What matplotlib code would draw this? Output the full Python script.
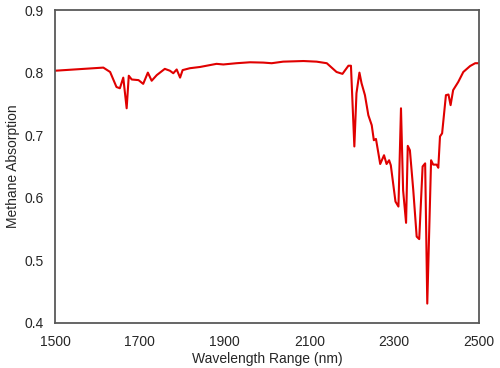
import matplotlib
matplotlib.use("Agg")
import matplotlib.pyplot as plt

wavelength = [1500, 1614, 1630, 1645, 1653, 1661, 1669, 1674, 1681, 1697, 1708, 1719, 1728,
              1740, 1759, 1771, 1779, 1787, 1795, 1801, 1818, 1842, 1881, 1897, 1928, 1960,
              1991, 2011, 2038, 2086, 2117, 2141, 2164, 2178, 2192, 2198, 2206, 2211, 2218,
              2223, 2231, 2239, 2247, 2252, 2257, 2267, 2276, 2282, 2288, 2292, 2303, 2310,
              2316, 2321, 2328, 2332, 2337, 2345, 2353, 2359, 2367, 2373, 2378, 2387, 2392,
              2400, 2404, 2408, 2413, 2422, 2428, 2433, 2439, 2451, 2463, 2479, 2491, 2500]
absorption = [0.803, 0.808, 0.801, 0.777, 0.775, 0.792, 0.743, 0.795, 0.789, 0.788, 0.782,
              0.800, 0.787, 0.796, 0.806, 0.803, 0.799, 0.805, 0.792, 0.804, 0.807, 0.809,
              0.814, 0.813, 0.815, 0.8165, 0.816, 0.815, 0.8175, 0.8185, 0.8175, 0.815,
              0.801, 0.798, 0.811, 0.811, 0.682, 0.767, 0.800, 0.783, 0.764, 0.732, 0.716,
              0.692, 0.694, 0.654, 0.668, 0.654, 0.660, 0.652, 0.594, 0.586, 0.743, 0.612,
              0.560, 0.683, 0.676, 0.612, 0.538, 0.534, 0.650, 0.655, 0.431, 0.660, 0.653,
              0.653, 0.648, 0.698, 0.703, 0.764, 0.765, 0.748, 0.772, 0.785, 0.801, 0.8105,
              0.815, 0.815]

xticks = [1500, 1700, 1900, 2100, 2300, 2500]
yticks = [0.4, 0.5, 0.6, 0.7, 0.8, 0.9]

plt.rcParams['font.family'] = ['Liberation Sans', 'DejaVu Sans']

fig = plt.figure(figsize=(5, 3.68), dpi=100)
ax = fig.add_axes([0.11, 0.1223, 0.848, 0.8505])
ax.plot(wavelength, absorption, color='#e00000', linewidth=1.5)
ax.set_xlim(1500, 2500)
ax.set_ylim(0.4, 0.9)
ax.set_xticks(xticks)
ax.set_yticks(yticks)
ax.set_yticklabels([f"{v:.1f}" for v in yticks])
ax.tick_params(axis='both', length=0, labelsize=10, colors='#262626')
ax.tick_params(axis='y', pad=8)
ax.tick_params(axis='x', pad=9)
for s in ax.spines.values():
    s.set_color('#595959')
    s.set_linewidth(1.3)
ax.set_xlabel('Wavelength Range (nm)', fontsize=10, color='#262626', labelpad=1.5)
ax.set_ylabel('Methane Absorption', fontsize=10, color='#262626', labelpad=3)
fig.savefig('out.png', dpi=100)
